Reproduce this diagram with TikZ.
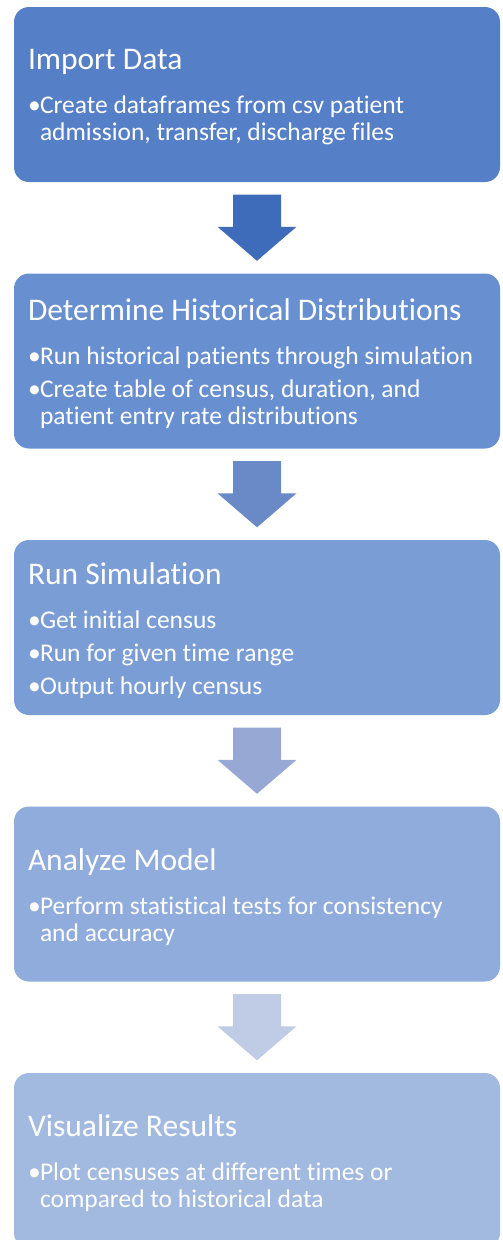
\documentclass[tikz,border=0pt]{standalone}
\usepackage{fontspec}
\setmainfont{Carlito}[Ligatures=NoCommon]
\usepackage{tikz}
\usetikzlibrary{positioning,calc}

\definecolor{boxA}{RGB}{85,127,199}
\definecolor{boxB}{RGB}{104,144,208}
\definecolor{boxC}{RGB}{123,157,214}
\definecolor{boxD}{RGB}{143,172,220}
\definecolor{boxE}{RGB}{162,185,224}
\definecolor{arrA}{RGB}{63,108,186}
\definecolor{arrB}{RGB}{106,138,199}
\definecolor{arrC}{RGB}{150,168,211}
\definecolor{arrD}{RGB}{192,203,229}

\newcommand{\steptitle}[1]{{\fontsize{31.5pt}{37pt}\selectfont\spaceskip=0pt\xspaceskip=0pt #1\par}\vspace{17pt}}
\newcommand{\stepitem}[1]{{\fontsize{25.5pt}{27pt}\selectfont\spaceskip=0pt\xspaceskip=0pt\hangindent=12pt\hangafter=1\noindent\makebox[12pt][l]{•}#1\par}}
\newcommand{\stepend}{\par\vspace{-6pt}}
\newcommand{\downblock}[3]{\fill[#3] ($(#1.south)+(-24,-12.5)$) -- ++(48,0) -- ($(#2.north)+(24,46.5)$) -- ++(15.5,0) -- ($(#2.north)+(0,12.5)$) -- ++(-39.5,34) -- ++(15.5,0) -- cycle;}

\begin{document}
\begin{tikzpicture}[x=1pt,y=1pt,
	stepbox/.style={rectangle, rounded corners=15pt, minimum width=486pt, minimum height=175pt, text width=458pt, inner xsep=14pt, align=left, text=white, execute at end node=\stepend}]
				\useasboundingbox (0,0) rectangle (503,-1240);
				\node[stepbox, fill=boxA] (imp) at (257,-94.5) {\steptitle{Import Data}\stepitem{Create dataframes from csv patient\newline admission, transfer, discharge files}};
				\node[stepbox, fill=boxB] (hist) at (257,-361) {\steptitle{Determine Historical Distributions}\stepitem{Run historical patients through simulation}\vspace{6pt}\stepitem{Create table of census, duration, and\newline patient entry rate distributions}};
				\node[stepbox, fill=boxC] (sim) at (257,-627.5) {\steptitle{Run Simulation}\stepitem{Get initial census}\vspace{6pt}\stepitem{Run for given time range}\vspace{6pt}\stepitem{Output hourly census}};
				\node[stepbox, fill=boxD] (model) at (257,-894) {\steptitle{Analyze Model}\stepitem{Perform statistical tests for consistency\newline and accuracy}};
				\node[stepbox, fill=boxE] (vis) at (257,-1160.5) {\steptitle{Visualize Results}\stepitem{Plot censuses at different times or\newline compared to historical data}};
				\downblock{imp}{hist}{arrA}
				\downblock{hist}{sim}{arrB}
				\downblock{sim}{model}{arrC}
				\downblock{model}{vis}{arrD}
\end{tikzpicture}
\end{document}
